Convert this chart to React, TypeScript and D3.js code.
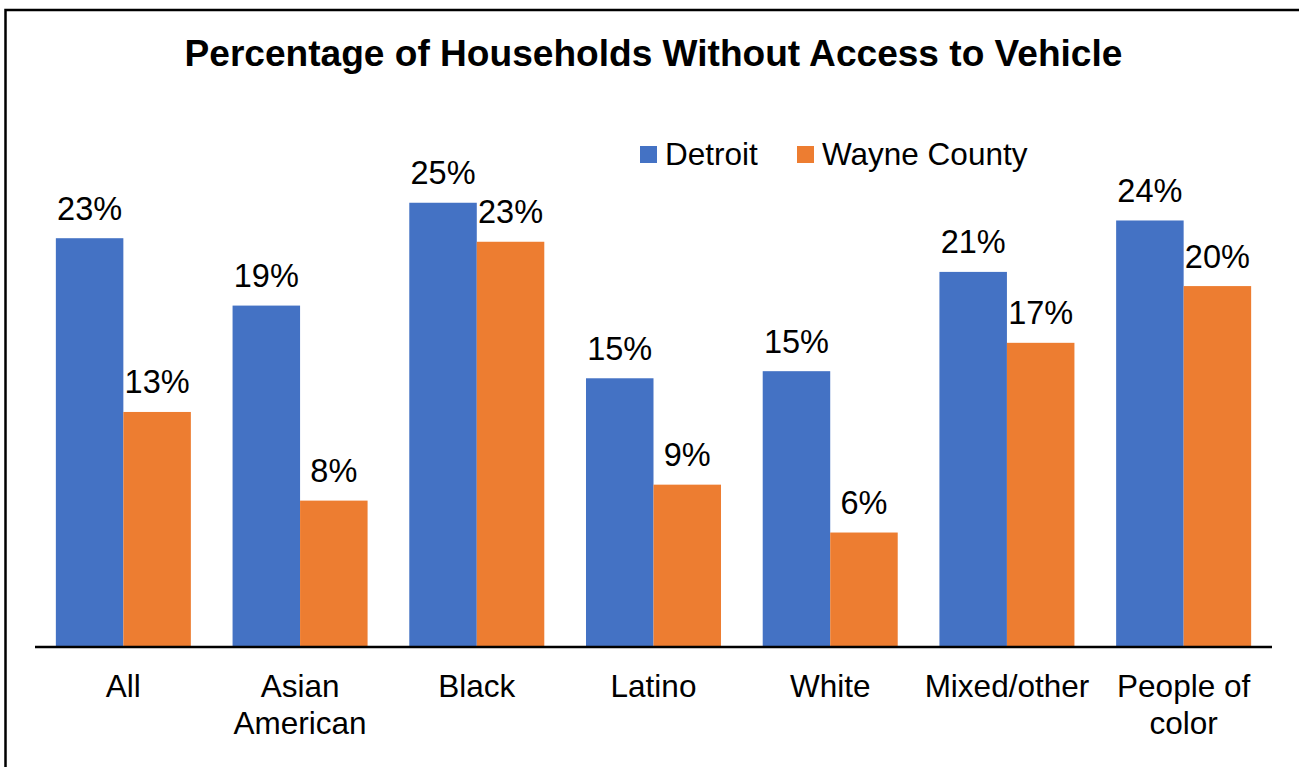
import React from "react";
import * as d3 from "d3";

const categories: string[][] = [
  ["All"],
  ["Asian", "American"],
  ["Black"],
  ["Latino"],
  ["White"],
  ["Mixed/other"],
  ["People of", "color"],
];
const seriesNames = ["Detroit", "Wayne County"];
const detroit = [23.0, 19.2, 25.0, 15.1, 15.5, 21.1, 24.0];
const wayne = [13.2, 8.2, 22.8, 9.1, 6.4, 17.1, 20.3];
const detroitLabels = ["23%", "19%", "25%", "15%", "15%", "21%", "24%"];
const wayneLabels = ["13%", "8%", "23%", "9%", "6%", "17%", "20%"];
const colors = ["#4472C4", "#ED7D31"];

const W = 1299;
const H = 767;
const FONT = "Arial, 'Liberation Sans', Helvetica, sans-serif";

export default function App() {
  const keys = categories.map((c) => c.join(" "));
  const x0 = d3.scaleBand<string>().domain(keys).range([35, 1272]).paddingInner(0.236).paddingOuter(0.118);
  const x1 = d3.scaleBand<string>().domain(seriesNames).range([0, x0.bandwidth()]);
  const baseY = 646;
  const y = d3.scaleLinear().domain([0, 30]).range([baseY, baseY - 30 * 17.73]);
  const series = [
    { name: seriesNames[0], values: detroit, labels: detroitLabels, color: colors[0] },
    { name: seriesNames[1], values: wayne, labels: wayneLabels, color: colors[1] },
  ];

  return (
    <svg width={W} height={H} style={{ position: "fixed", left: 0, top: 0, background: "#fff" }} fontFamily={FONT}>
      <rect x={0} y={0} width={W} height={H} fill="#fff" />
      <path d={`M5.5,${H + 5} L5.5,10 L${W + 5},10`} fill="none" stroke="#000" strokeWidth={2.5} />
      <text x={653.5} y={66} textAnchor="middle" fontSize={37.1} fontWeight="bold" fill="#000">
        Percentage of Households Without Access to Vehicle
      </text>
      {/* legend */}
      <g>
        <rect x={640} y={146} width={17} height={17} fill={colors[0]} />
        <text x={665} y={165} fontSize={31.5} fill="#000">{seriesNames[0]}</text>
        <rect x={797} y={146} width={17} height={17} fill={colors[1]} />
        <text x={822} y={165} fontSize={31.5} fill="#000">{seriesNames[1]}</text>
      </g>
      {keys.map((k, i) => (
        <g key={k} transform={`translate(${x0(k)},0)`}>
          {series.map((s) => {
            const bx = x1(s.name)!;
            const by = y(s.values[i]);
            return (
              <g key={s.name}>
                <rect x={bx} y={by} width={x1.bandwidth()} height={baseY - by} fill={s.color} />
                <text x={bx + x1.bandwidth() / 2} y={by - 18.5} textAnchor="middle" fontSize={32.5} fill="#000">
                  {s.labels[i]}
                </text>
              </g>
            );
          })}
        </g>
      ))}
      <line x1={x0.range()[0]} x2={x0.range()[1]} y1={647} y2={647} stroke="#000" strokeWidth={2.5} />
      {categories.map((c, i) => (
        <text key={i} x={x0(keys[i])! + x0.bandwidth() / 2} y={697} textAnchor="middle" fontSize={31.5} fill="#000">
          {c.map((line, j) => (
            <tspan key={j} x={x0(keys[i])! + x0.bandwidth() / 2} dy={j === 0 ? 0 : 36.5}>
              {line}
            </tspan>
          ))}
        </text>
      ))}
    </svg>
  );
}
